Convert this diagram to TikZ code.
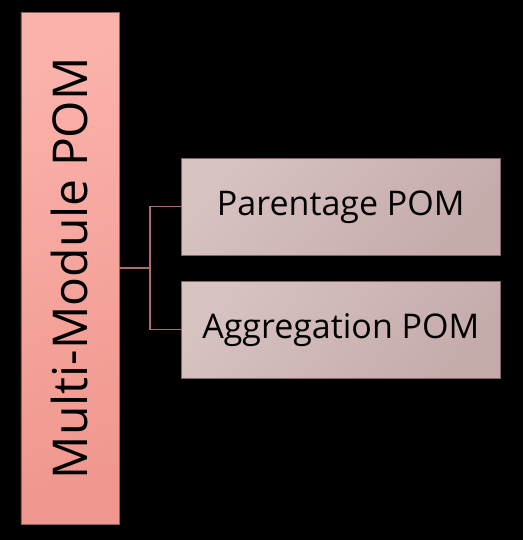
\documentclass[tikz,border=0pt]{standalone}
\usepackage{fontspec}
\setmainfont{Open Sans}
\definecolor{pinkA}{RGB}{250,178,170}
\definecolor{pinkB}{RGB}{240,152,143}
\definecolor{greyA}{RGB}{214,194,193}
\definecolor{greyB}{RGB}{198,171,171}
\definecolor{linkc}{RGB}{170,112,110}
\definecolor{edgec}{RGB}{130,100,100}
\begin{document}
\begin{tikzpicture}[x=1pt,y=-1pt,
  mainbox/.style={draw=edgec,line width=0.6pt,top color=pinkA,bottom color=pinkB,shading angle=20,
    minimum width=98pt,minimum height=511pt,inner sep=0pt,anchor=north west},
  subbox/.style={draw=edgec,line width=0.6pt,top color=greyA,bottom color=greyB,shading angle=50,
    minimum width=319pt,minimum height=97pt,inner sep=0pt,anchor=north west,
    font=\fontsize{34}{38}\selectfont},
  link/.style={draw=linkc,line width=1.3pt}]
\fill[black] (0,0) rectangle (523,540);
\useasboundingbox (0,0) rectangle (523,540);
\node[mainbox] (m) at (20.5,12.5) {};
\node[rotate=90,font=\fontsize{48}{52}\selectfont] at (m.center) {Multi-Module POM};
\node[subbox] (p) at (181,158) {Parentage POM};
\node[subbox] (a) at (181,281) {Aggregation POM};
\coordinate (j) at (150,268);
\draw[link] (m.east |- j) -- (j);
\draw[link] (p.west) -| (j) |- (a.west);
\end{tikzpicture}
\end{document}
